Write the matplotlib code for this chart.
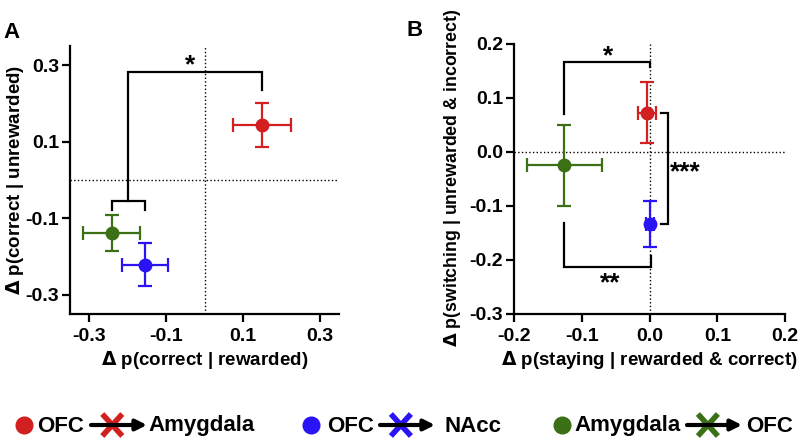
"""Two-panel scatter with error bars: effect of pathway inactivation"""

import matplotlib
matplotlib.use("Agg")
import matplotlib.pyplot as plt

plt.rcParams["font.family"] = ["Liberation Sans", "DejaVu Sans"]
plt.rcParams["font.weight"] = "bold"
plt.rcParams["axes.unicode_minus"] = False

# groups: OFC->Amygdala, OFC->NAcc, Amygdala->OFC
colors = ["#D21F1F", "#2A14F5", "#3B7016"]

# panel A
a_x = [0.149, -0.155, -0.242]
a_xerr = [0.075, 0.059, 0.074]
a_y = [0.143, -0.221, -0.138]
a_yerr = [0.057, 0.056, 0.047]

# panel B
b_x = [-0.004, 0.0, -0.126]
b_xerr = [0.0136, 0.006, 0.056]
b_y = [0.073, -0.133, -0.025]
b_yerr = [0.056, 0.043, 0.075]

a_ticks = [-0.3, -0.1, 0.1, 0.3]
b_xticks = [-0.2, -0.1, 0.0, 0.1, 0.2]
b_yticks = [-0.3, -0.2, -0.1, 0.0, 0.1, 0.2]

legend_src = ["OFC", "OFC", "Amygdala"]
legend_dst = ["Amygdala", "NAcc", "OFC"]

LW = 1.6
FS = 14
LFS = 13.5


def style_axes(ax):
    for s in ["top", "right"]:
        ax.spines[s].set_visible(False)
    for s in ["left", "bottom"]:
        ax.spines[s].set_linewidth(LW)
    ax.tick_params(direction="out", length=6, width=LW, labelsize=FS)
    ax.tick_params(axis="x", pad=4)
    ax.tick_params(axis="y", pad=2)


def draw_points(ax, xs, xerrs, ys, yerrs):
    for x, xe, y, ye, c in zip(xs, xerrs, ys, yerrs, colors):
        ax.errorbar(x, y, xerr=xe, yerr=ye, fmt="o", color=c, ecolor=c,
                    markersize=9, elinewidth=LW, capsize=5, capthick=LW, zorder=3)


def bracket(ax, xs, ys):
    ax.plot(xs, ys, color="black", lw=LW, solid_joinstyle="miter", zorder=2)


fig = plt.figure(figsize=(8, 4.4), dpi=100)

# ---- panel A
axA = fig.add_axes([0.0875, 0.2864, 0.3363, 0.6091])
axA.set_xlim(-0.35, 0.35)
axA.set_ylim(-0.35, 0.35)
axA.axvline(0, color="black", ls=":", lw=1)
axA.axhline(0, color="black", ls=":", lw=1)
draw_points(axA, a_x, a_xerr, a_y, a_yerr)
axA.set_xticks(a_ticks)
axA.set_yticks(a_ticks)
axA.set_xticklabels([f"{t:.1f}" for t in a_ticks])
axA.set_yticklabels([f"{t:.1f}" for t in a_ticks])
style_axes(axA)
axA.set_xlabel(r"$\Delta$ p(correct | rewarded)", fontsize=LFS, fontweight="bold")
axA.set_ylabel(r"$\Delta$ p(correct | unrewarded)", fontsize=LFS, fontweight="bold")
axA.xaxis.set_label_coords(0.5, -0.172)
axA.xaxis.label.set_va("center")
axA.yaxis.set_label_coords(-0.205, 0.5)
axA.yaxis.label.set_va("center")

# significance brackets A
mid_a = (a_x[1] + a_x[2]) / 2
bracket(axA, [mid_a, mid_a, a_x[0], a_x[0]], [-0.056, 0.283, 0.283, 0.234])
bracket(axA, [a_x[2], a_x[2], a_x[1], a_x[1]], [-0.078, -0.056, -0.056, -0.078])
axA.text(-0.037, 0.30, "*", fontsize=19, ha="center", va="center")

# ---- panel B
axB = fig.add_axes([0.6429, 0.2864, 0.3384, 0.6136])
axB.set_xlim(-0.2, 0.2)
axB.set_ylim(-0.3, 0.2)
axB.axvline(0, color="black", ls=":", lw=1)
axB.axhline(0, color="black", ls=":", lw=1)
draw_points(axB, b_x, b_xerr, b_y, b_yerr)
axB.set_xticks(b_xticks)
axB.set_yticks(b_yticks)
axB.set_xticklabels([f"{t:.1f}" for t in b_xticks])
axB.set_yticklabels([f"{t:.1f}" for t in b_yticks])
style_axes(axB)
axB.set_xlabel(r"$\Delta$ p(staying | rewarded & correct)", fontsize=LFS, fontweight="bold")
axB.set_ylabel(r"$\Delta$ p(switching | unrewarded & incorrect)", fontsize=12.8, fontweight="bold")
axB.xaxis.set_label_coords(0.5, -0.172)
axB.xaxis.label.set_va("center")
axB.yaxis.set_label_coords(-0.228, 0.505)
axB.yaxis.label.set_va("center")

# significance brackets B
bracket(axB, [b_x[2], b_x[2], b_x[1], b_x[1]], [0.071, 0.167, 0.167, 0.157])
bracket(axB, [b_x[2], b_x[2], 0.002, 0.002], [-0.132, -0.213, -0.213, -0.192])
bracket(axB, [0.016, 0.027, 0.027, 0.016], [b_y[0], b_y[0], b_y[1], b_y[1]])
axB.text(-0.062, 0.178, "*", fontsize=19, ha="center", va="center")
axB.text(-0.059, -0.243, "**", fontsize=19, ha="center", va="center")
axB.text(0.053, -0.037, "***", fontsize=19, ha="center", va="center")

# panel letters
fig.text(12 / 800, 1 - 32 / 440, "A", fontsize=16, fontweight="bold", ha="center", va="center")
fig.text(415 / 800, 1 - 30 / 440, "B", fontsize=16, fontweight="bold", ha="center", va="center")

# ---- legend row (pixel-space overlay)
lg = fig.add_axes([0, 0, 1, 1])
lg.set_xlim(0, 800)
lg.set_ylim(440, 0)
lg.axis("off")
ly = 425
dot_x = [24, 311, 562]
src_x = [37, 327, 574]
arr_x = [(91, 147), (380, 435), (687, 742)]
dst_x = [148, 444, 746]
for i in range(3):
    c = colors[i]
    lg.plot(dot_x[i], ly, "o", color=c, markersize=12)
    lg.text(src_x[i], ly + 1, legend_src[i], fontsize=16, fontweight="bold", ha="left", va="center")
    x0, x1 = arr_x[i]
    lg.annotate("", xy=(x1, ly), xytext=(x0, ly),
                arrowprops=dict(arrowstyle="-|>", lw=3, color="black",
                                mutation_scale=16, shrinkA=0, shrinkB=0))
    cx = x0 + (x1 - x0) * 0.38
    lg.plot([cx - 10, cx + 10], [ly - 11, ly + 11], color=c, lw=4, solid_capstyle="butt")
    lg.plot([cx - 10, cx + 10], [ly + 11, ly - 11], color=c, lw=4, solid_capstyle="butt")
    lg.text(dst_x[i], ly + 1, legend_dst[i], fontsize=16, fontweight="bold", ha="left", va="center")

fig.savefig("out.png", dpi=100)
plt.close(fig)
